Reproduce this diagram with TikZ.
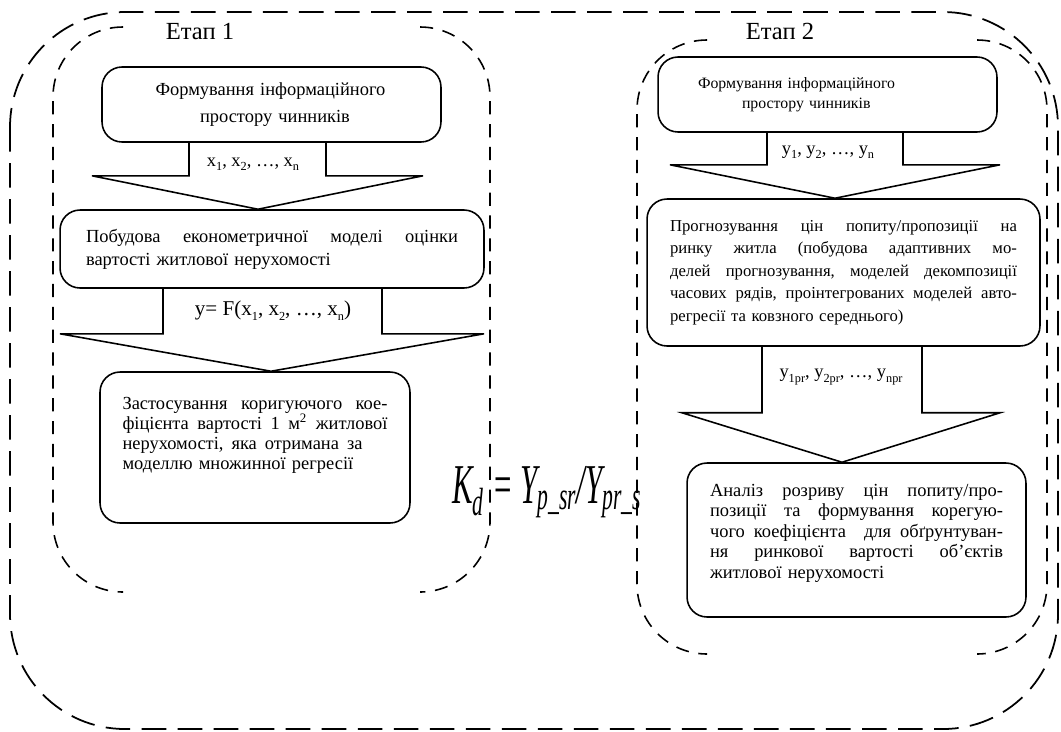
\documentclass[tikz,border=0pt]{standalone}
\usepackage{fontspec}
\setmainfont{Liberation Serif}
\usepackage{graphicx}
\usepackage{tikz}
\usetikzlibrary{calc}
\usetikzlibrary{positioning}

\newcommand{\gap}{\hspace{0.25em plus 1fill}}
\newcommand{\jl}[2]{\makebox[#1][l]{#2}}
\newcommand{\lift}[1]{\rule[-#1]{0pt}{#1}}
\newcommand{\lowsub}[1]{\raisebox{-0.5ex}{\fontsize{7}{7}\selectfont #1}}

\tikzset{
  box/.style={rectangle, rounded corners=0.4cm, draw=black, line width=0.9pt, inner sep=0pt},
  blk/.style={draw=black, line width=0.9pt, line join=miter},
  frame/.style={draw=black, line width=1pt, dash pattern=on 14pt off 6.5pt, rounded corners=2.3cm},
  stage/.style={draw=black, line width=0.9pt, dash pattern=on 7.5pt off 5.5pt, rounded corners=1.4cm},
}

\begin{document}
\begin{tikzpicture}[x=0.02cm, y=-0.02cm]
\useasboundingbox (0,0) rectangle (1061,731);
\draw [frame] (10,12) rectangle (1058,729);

% stage frames
\draw [stage] (123,27) -- (53,27) -- (53,592) -- (123,592);
\draw [stage] (420,27) -- (490,27) -- (490,592) -- (420,592);
\draw [stage] (707,40) -- (637,40) -- (637,654) -- (707,654);
\draw [stage] (977,40) -- (1047,40) -- (1047,654) -- (977,654);
\node [font=\fontsize{14}{16}\selectfont] (e1) at (200,31) {Етап 1};
\node [font=\fontsize{14}{16}\selectfont] (e2) at (780,31) {Етап 2};

% left column
\node [box, minimum width=6.78cm, minimum height=1.5cm, text width=5.2cm, align=left,
  font=\fontsize{10.5}{15.5}\selectfont] (b1) at (271.5,104.5)
  {\hspace*{0.28cm}Формування інформаційного\\\hspace*{1.17cm}простору чинників};
\node [box, minimum width=8.48cm, minimum height=1.56cm, text width=7.44cm, align=left,
  font=\fontsize{10.5}{13}\selectfont] (b2) at (272,249)
  {\jl{7.44cm}{Побудова\gap економетричної\gap моделі\gap оцінки}\\вартості житлової нерухомості};
\node [box, minimum width=6.2cm, minimum height=3.02cm, text width=5.3cm, align=left,
  font=\fontsize{10.5}{11.5}\selectfont] (b3) at (255,447.5)
  {\jl{5.3cm}{Застосування\gap коригуючого\gap кое-}\\
   \jl{5.3cm}{фіцієнта\gap вартості\gap 1\gap м\textsuperscript{2}\gap житлової}\\
   \jl{4.8cm}{нерухомості,\gap яка\gap отримана\gap за}\\моделлю множинної регресії\lift{16pt}};

\draw [blk] ($(b1.south)+(-82.5,0)$) -- ++(0,33) -- ++(-97,0) -- ($(b2.north)+(-14,0)$)
  -- ($(b1.south)+(151.5,33)$) -- ++(-97,0) -- ++(0,-33);
\draw [blk] ($(b2.south)+(-109,0)$) -- ++(0,45) -- ++(-103,0) -- ($(b3.north)+(16,0)$)
  -- ($(b2.south)+(212,45)$) -- ++(-102,0) -- ++(0,-45);
\node [font=\fontsize{10.5}{12}\selectfont] (l1) at (253,164)
  {x\lowsub{1}, x\lowsub{2}, \dots, x\lowsub{n}};
\node [font=\fontsize{12}{14}\selectfont] (l2) at (273,311)
  {y= F(x\lowsub{1}, x\lowsub{2}, \dots, x\lowsub{n})};

% right column
\node [box, minimum width=6.78cm, minimum height=1.5cm, text width=5.6cm, align=left,
  font=\fontsize{9}{11.5}\selectfont] (b4) at (827.5,94.5)
  {\hspace*{0.21cm}Формування інформаційного\\\hspace*{1.09cm}простору чинників};
\node [box, minimum width=7.86cm, minimum height=2.94cm, text width=6.94cm, align=left,
  font=\fontsize{9.5}{12.8}\selectfont] (b5) at (843.5,272.5)
  {\jl{6.94cm}{Прогнозування\gap цін\gap попиту/пропозиції\gap на}\\
   \jl{6.94cm}{ринку\gap житла\gap (побудова\gap адаптивних\gap мо-}\\
   \jl{6.94cm}{делей\gap прогнозування,\gap моделей\gap декомпозиції}\\
   \jl{6.94cm}{часових\gap рядів,\gap проінтегрованих\gap моделей\gap авто-}\\
   регресії та ковзного середнього)};
\node [box, minimum width=6.78cm, minimum height=3.08cm, text width=5.86cm, align=left,
  font=\fontsize{10.5}{11.6}\selectfont] (b6) at (856.5,540)
  {\jl{5.86cm}{Аналіз\gap розриву\gap цін\gap попиту/про-}\\
   \jl{5.86cm}{позиції\gap та\gap формування\gap корегую-}\\
   \jl{5.86cm}{чого\gap коефіцієнта\gap\gap для\gap обґрунтуван-}\\
   \jl{5.86cm}{ня\gap ринкової\gap вартості\gap об’єктів}\\
   житлової нерухомості\lift{10pt}};

\draw [blk] ($(b4.south)+(-60.5,0)$) -- ++(0,32) -- ++(-97,0) -- ($(b5.north)+(-8.5,0)$)
  -- ($(b4.south)+(172.5,32)$) -- ++(-97,0) -- ++(0,-32);
\draw [blk] ($(b5.south)+(-81.5,0)$) -- ++(0,66) -- ++(-80,0) -- ($(b6.north)+(-14.5,0)$)
  -- ($(b5.south)+(156.5,66)$) -- ++(-78,0) -- ++(0,-66);
\node [font=\fontsize{10.5}{12}\selectfont] (l3) at (828,152)
  {y\lowsub{1}, y\lowsub{2}, \dots, y\lowsub{n}};
\node [font=\fontsize{10.5}{12}\selectfont] (l4) at (841,377)
  {y\lowsub{1pr}, y\lowsub{2pr}, \dots, y\lowsub{npr}};

% coefficient
\node [anchor=base west, inner sep=0pt] (kd) at (452,503)
  {\scalebox{0.55}[1]{\fontsize{32}{32}\selectfont\itshape K\textsubscript{d} = Y\textsubscript{p\_sr}/Y\textsubscript{pr\_s}}};
\end{tikzpicture}
\end{document}
